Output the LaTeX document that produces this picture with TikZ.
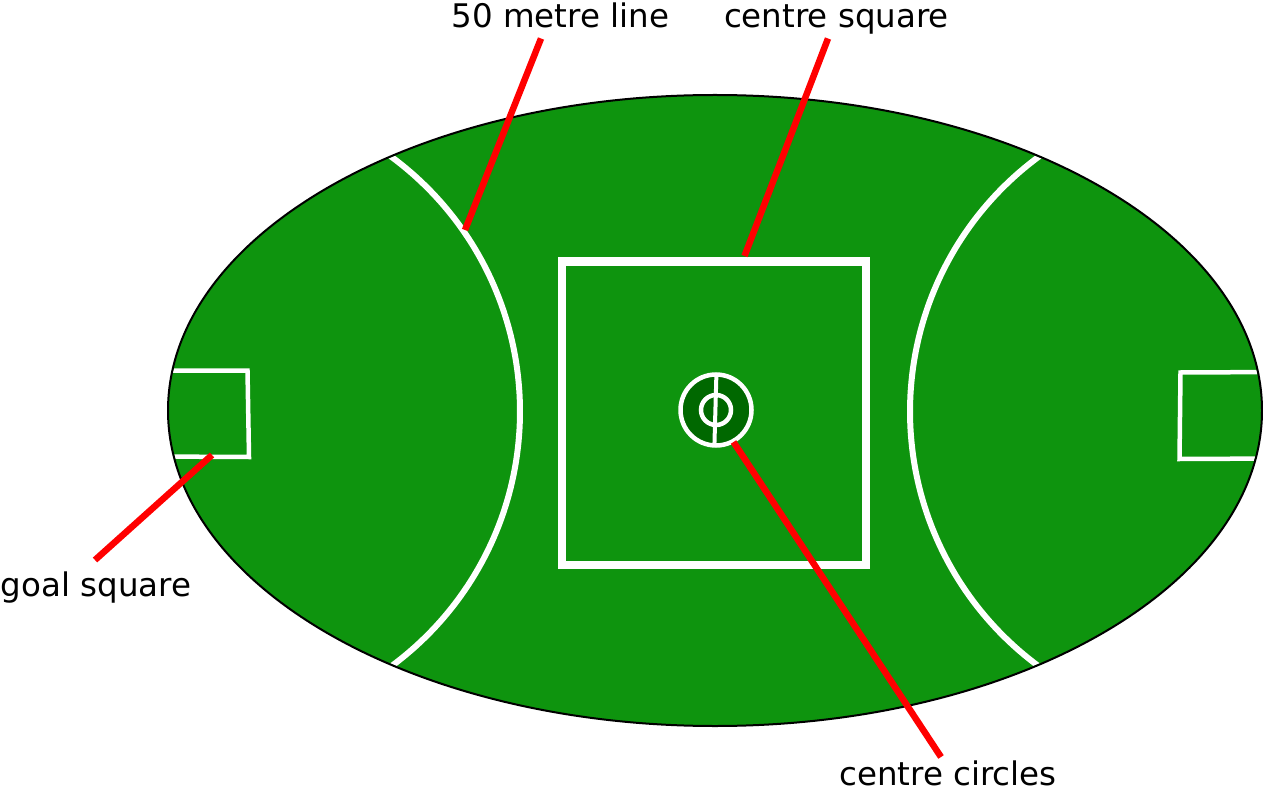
\documentclass[tikz,border=0pt]{standalone}
\usepackage{fontspec}
\setmainfont{DejaVu Sans}
\definecolor{field}{RGB}{14,148,14}
\definecolor{darkfield}{RGB}{0,104,0}
\begin{document}
\begin{tikzpicture}[x=1pt,y=-1pt,
  whiteline/.style={draw=white,line width=6pt},
  thinwhite/.style={draw=white,line width=4.5pt},
  pointer/.style={draw=red,line width=6.5pt},
  lbl/.style={anchor=base,inner sep=0pt,font=\fontsize{32.5}{38}\selectfont}]
\useasboundingbox (0,0) rectangle (1263,791);
% field
\fill[field] (715,410.5) ellipse [x radius=547pt, y radius=315.5pt];
\begin{scope}
  \clip (715,410.5) ellipse [x radius=546pt, y radius=314.5pt];
  % 50 metre arcs
  \draw[whiteline] plot[domain=-60:60, samples=100] ({203.5+316.5*cos(\x)},{411.5-316.5*sin(\x)});
  \draw[whiteline] plot[domain=-60:60, samples=100] ({1226.5-316.5*cos(\x)},{411.5-316.5*sin(\x)});
  % goal squares
  \draw[thinwhite] (150,370.5) -- (247.5,370.5) -- (249,457) -- (150,456.5);
  \draw[thinwhite] (1280,372) -- (1180.5,372.5) -- (1179.5,459) -- (1280,458.5);
\end{scope}
\draw[black,line width=2pt] (715,410.5) ellipse [x radius=547pt, y radius=315.5pt];
% centre square
\draw[draw=white,line width=8.5pt] (562,261.5) rectangle (866,565);
% centre circles
\draw[thinwhite,fill=darkfield] (716,410) circle [radius=35.5pt];
\draw[thinwhite] (716,410) circle [radius=15pt];
\draw[draw=white,line width=4pt] (716.4,374.5) -- (714.4,445.5);
% labels
\node[lbl] (l50) at (560.5,28) {50 metre line};
\node[lbl] (lcs) at (836.5,27.5) {centre square};
\node[lbl] (lgs) at (96,596.5) {goal square};
\node[lbl] (lcc) at (948,785) {centre circles};
% pointer ends
\coordinate (p50a) at (541,38.5);
\coordinate (p50b) at (465,230);
\coordinate (pcsa) at (828,38.5);
\coordinate (pcsb) at (744.5,256);
\coordinate (pgsa) at (95,560);
\coordinate (pgsb) at (212,455);
\coordinate (pcca) at (941,757);
\coordinate (pccb) at (733.5,442);
\draw[pointer] (p50a) -- (p50b);
\draw[pointer] (pcsa) -- (pcsb);
\draw[pointer] (pgsa) -- (pgsb);
\draw[pointer] (pcca) -- (pccb);
\end{tikzpicture}
\end{document}
